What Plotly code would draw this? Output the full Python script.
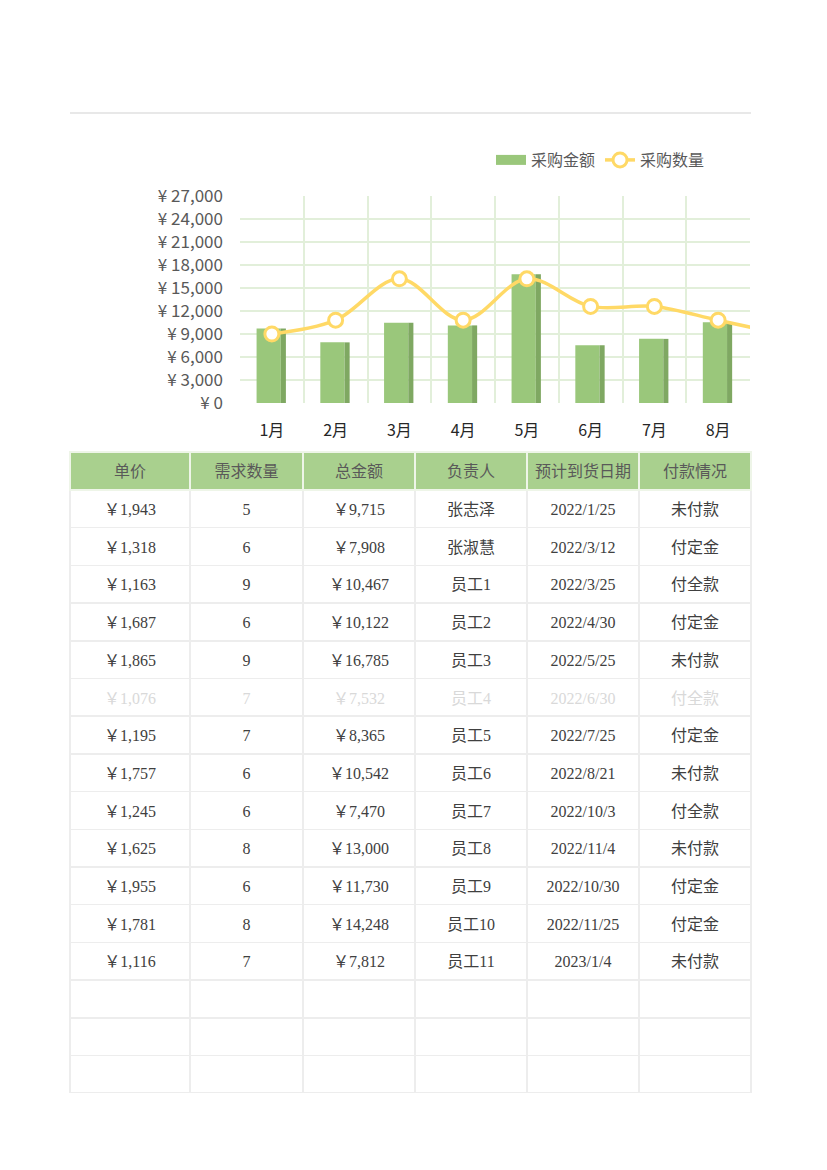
import plotly.graph_objects as go

# ---- chart data ----
months = ["1月", "2月", "3月", "4月", "5月", "6月", "7月", "8月", "9月"]
amount = [9715, 7908, 10467, 10122, 16785, 7532, 8365, 10542, 7470]
qty = [5, 6, 9, 6, 9, 7, 7, 6, 5]

# ---- table data ----
headers = ["单价", "需求数量", "总金额", "负责人", "预计到货日期", "付款情况"]
unit_price = [1943, 1318, 1163, 1687, 1865, 1076, 1195, 1757, 1245, 1625, 1955, 1781, 1116]
demand = [5, 6, 9, 6, 9, 7, 7, 6, 6, 8, 6, 8, 7]
total = [9715, 7908, 10467, 10122, 16785, 7532, 8365, 10542, 7470, 13000, 11730, 14248, 7812]
owner = ["张志泽", "张淑慧", "员工1", "员工2", "员工3", "员工4", "员工5", "员工6",
         "员工7", "员工8", "员工9", "员工10", "员工11"]
dates = ["2022/1/25", "2022/3/12", "2022/3/25", "2022/4/30", "2022/5/25", "2022/6/30",
         "2022/7/25", "2022/8/21", "2022/10/3", "2022/11/4", "2022/10/30", "2022/11/25", "2023/1/4"]
status = ["未付款", "付定金", "付全款", "付定金", "未付款", "付全款", "付定金", "未付款",
          "付全款", "未付款", "付定金", "付定金", "未付款"]
faded_row = 5
empty_rows = 3

W, H = 827, 1170


def px(x):
    return x / W


def py(y):
    return 1 - y / H


CJK = "Noto Sans CJK SC"
SERIF = "Liberation Serif, Noto Sans CJK SC"
BAR_GREEN = "#9ac77b"

fig = go.Figure()

fig.add_bar(x=months, y=amount, width=0.38, offset=-0.24,
            marker=dict(color=BAR_GREEN, line=dict(width=0)),
            name="采购金额", showlegend=False)
fig.add_bar(x=months, y=amount, width=0.08, offset=0.14,
            marker=dict(color="#7fa862", line=dict(width=0)),
            showlegend=False, hoverinfo="skip")
# legend swatch for the bars (wide rectangle like the original)
fig.add_scatter(x=[None], y=[None], mode="lines",
                line=dict(color=BAR_GREEN, width=10), name="采购金额")
fig.add_scatter(x=months, y=qty, yaxis="y2", mode="lines+markers",
                line=dict(color="#ffd966", width=3.5, shape="spline", smoothing=1.0),
                marker=dict(size=14, color="white", line=dict(color="#ffd966", width=3)),
                name="采购数量")

# ---- table ----
n = len(unit_price)
nrows = n + empty_rows
cols = [
    ["￥{:,}".format(v) for v in unit_price] + [""] * empty_rows,
    [str(v) for v in demand] + [""] * empty_rows,
    ["￥{:,}".format(v) for v in total] + [""] * empty_rows,
    owner + [""] * empty_rows,
    dates + [""] * empty_rows,
    status + [""] * empty_rows,
]
row_colors = ["#d9d9d9" if i == faded_row else "#404040" for i in range(nrows)]
font_colors = [row_colors for _ in cols]
colw = [120, 113, 112, 112, 112, 112]
HEAD_H, CELL_H = 38, 37.7
TEXT_DROP = 5  # text sits a little lower in its cells than plotly's default

# grid + fills
fig.add_trace(go.Table(
    domain=dict(x=[px(70), px(751)], y=[py(1093), py(452)]),
    columnwidth=colw,
    header=dict(values=[""] * len(headers), fill_color="#a9d08e",
                line=dict(color="#eef5e8", width=1.5), height=HEAD_H),
    cells=dict(values=[[""] * nrows for _ in cols], fill_color="white",
               line=dict(color="#ededed", width=1.5), height=CELL_H),
))
# text layer
fig.add_trace(go.Table(
    domain=dict(x=[px(70), px(751)], y=[py(1093 + TEXT_DROP), py(452 + TEXT_DROP)]),
    columnwidth=colw,
    header=dict(values=headers, fill_color="rgba(0,0,0,0)",
                line=dict(color="rgba(0,0,0,0)", width=0),
                font=dict(family=SERIF, size=16, color="#595959"),
                align="center", height=HEAD_H),
    cells=dict(values=cols, fill_color="rgba(0,0,0,0)",
               line=dict(color="rgba(0,0,0,0)", width=0),
               font=dict(family=SERIF, size=16, color=font_colors),
               align="center", height=CELL_H),
))

fig.update_layout(
    width=W, height=H,
    margin=dict(l=0, r=0, t=0, b=0, pad=0, autoexpand=False),
    paper_bgcolor="white", plot_bgcolor="white",
    barmode="overlay",
    showlegend=True,
    legend=dict(orientation="h", x=px(710), xanchor="right", y=py(160), yanchor="middle",
                font=dict(family=CJK, size=16, color="#595959"),
                bgcolor="rgba(0,0,0,0)", itemwidth=30, tracegroupgap=0),
    xaxis=dict(domain=[px(240), px(750)], type="category", range=[-0.5, 7.5],
               tickson="boundaries", showgrid=True, gridcolor="#e2efda", gridwidth=1.5,
               ticks="", showline=False, zeroline=False,
               tickfont=dict(family=CJK, size=16, color="#262626"),
               ticklabelstandoff=16),
    yaxis=dict(domain=[py(403), py(196)], range=[0, 27000], dtick=3000,
               tickprefix="¥ ", tickformat=",", showgrid=True, gridcolor="#e2efda",
               gridwidth=1.5, zeroline=False, showline=False, ticks="",
               tickfont=dict(family=CJK, size=17, color="#595959"),
               ticklabelstandoff=16),
    yaxis2=dict(overlaying="y", range=[0, 15], visible=False),
    shapes=[dict(type="line", xref="paper", yref="paper", x0=px(70), x1=px(751),
                 y0=py(113), y1=py(113), line=dict(color="#e0e0e0", width=1.5))],
)

fig.write_html("out.html")
